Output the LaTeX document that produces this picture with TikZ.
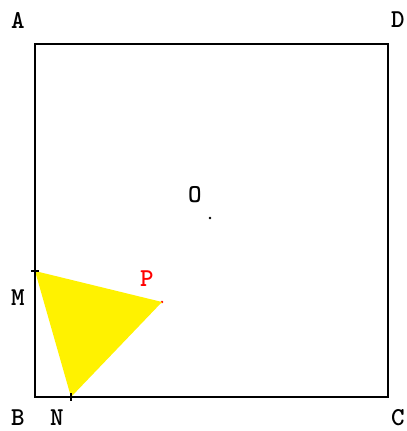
\documentclass[tikz,border=0pt]{standalone}
\usepackage{fontspec}
\usepackage{tikz}
\usetikzlibrary{positioning, calc}

\begin{document}
\begin{tikzpicture}[
    x=0.03cm, y=-0.03cm,
    side/.style={draw, line width=1.3pt, line join=miter},
    lbl/.style={font=\ttfamily\bfseries\fontsize{22}{22}\selectfont, inner sep=0pt},
    tick/.style={line width=1.3pt},
    dot/.style={circle, fill, inner sep=0pt, minimum size=2.2pt}
]
    \useasboundingbox (0,0) rectangle (406,431);

    % corners of the square
    \coordinate (A) at (35,44);
    \coordinate (B) at (35,397);
    \coordinate (C) at (388,397);
    \coordinate (D) at (388,44);
    % points M, N, P and the centre O
    \coordinate (M) at (35,271);
    \coordinate (N) at (71,397);
    \node[dot, red] (P) at (162,302) {};
    \node[dot] (O) at (210,218) {};

    \fill[yellow] (M) -- (N) -- (P.center) -- cycle;
    \draw[side] (A) -- (B) -- (C) -- (D) -- cycle;

    \draw[tick] ($(M)+(-4,0)$) -- ($(M)+(4,0)$);
    \draw[tick] ($(N)+(0,-4)$) -- ($(N)+(0,4)$);

    \node[lbl] (lA) at (18,20) {A};
    \node[lbl] (lD) at (398,20) {D};
    \node[lbl] (lB) at (18,418) {B};
    \node[lbl] (lC) at (398,418) {C};
    \node[lbl] (lN) at (57,418) {N};
    \node[lbl] (lM) at (18,298) {M};
    \node[lbl] (lO) at (195,195) {O};
    \node[lbl, red] (lP) at (147,279) {P};
\end{tikzpicture}
\end{document}
